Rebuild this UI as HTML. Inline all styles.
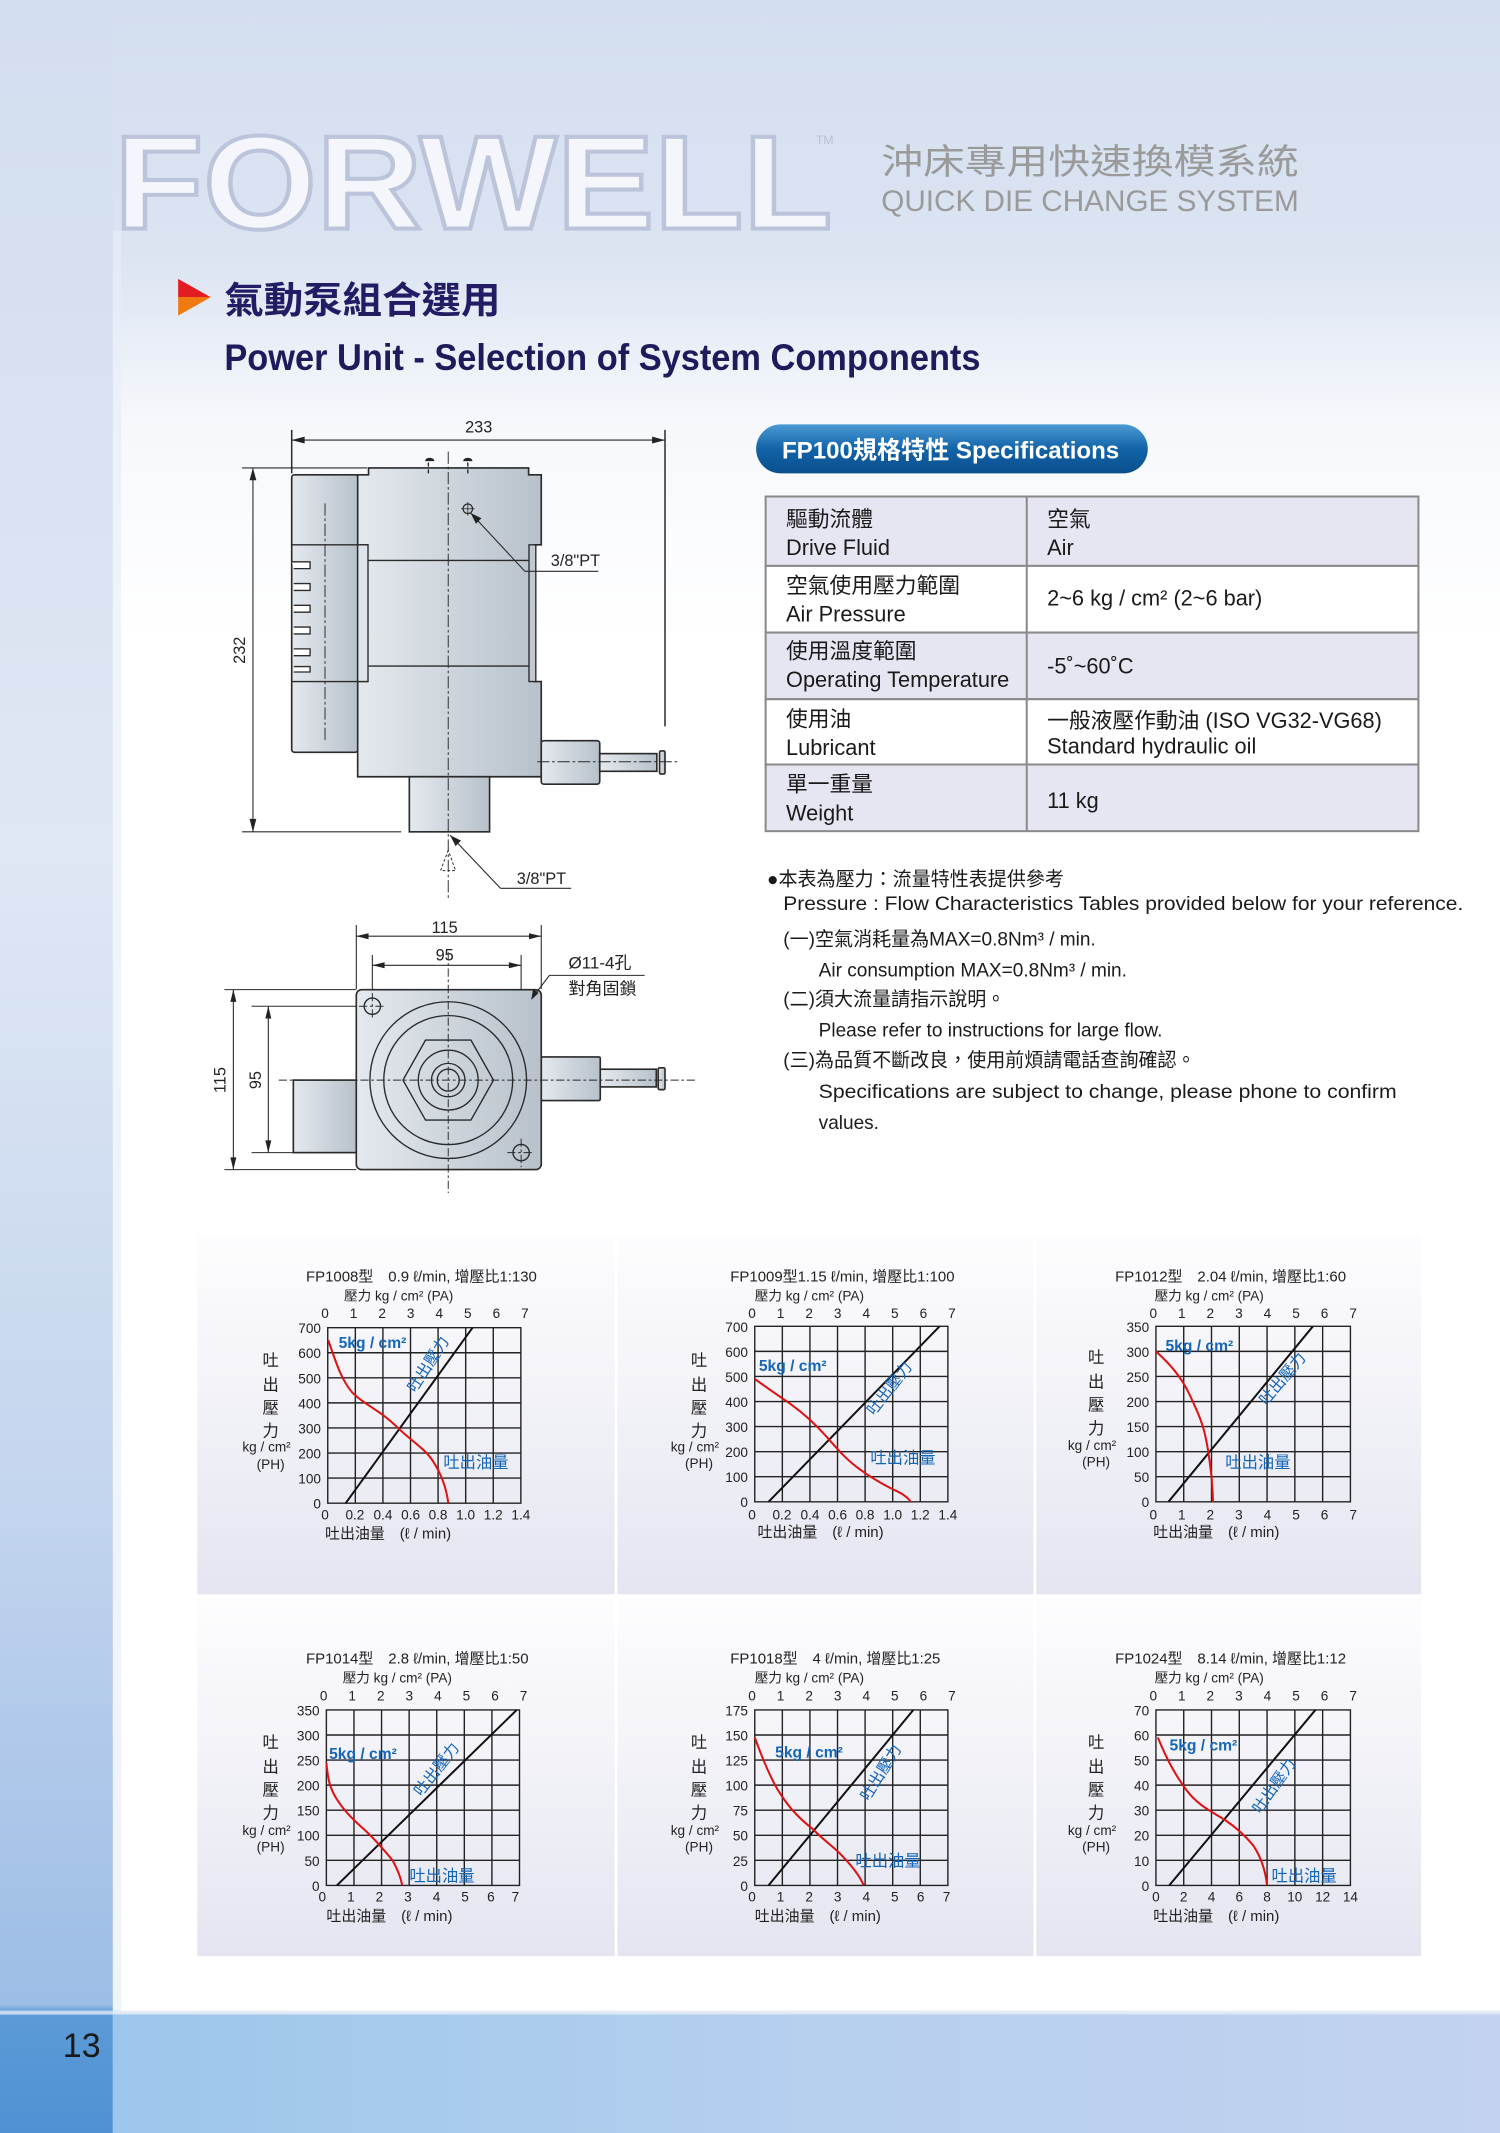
<!DOCTYPE html>
<html><head><meta charset="utf-8"><style>
html,body{margin:0;padding:0;background:#fff}
svg{display:block}
text{font-family:"Liberation Sans","Noto Sans CJK TC",sans-serif}
</style></head><body>
<svg width="1500" height="2133" viewBox="0 0 1103 1568" preserveAspectRatio="none" xmlns="http://www.w3.org/2000/svg">
<defs>
<linearGradient id="top" x1="0" y1="0" x2="0" y2="1">
<stop offset="0" stop-color="#d3def0"/><stop offset="0.12" stop-color="#dce4f2"/><stop offset="0.2" stop-color="#f6f8fc"/><stop offset="0.3" stop-color="#fff"/><stop offset="1" stop-color="#fff"/></linearGradient>
<linearGradient id="lstrip" x1="0" y1="0" x2="0" y2="1">
<stop offset="0" stop-color="#d3def0"/><stop offset="0.12" stop-color="#d6e0f0"/><stop offset="0.4" stop-color="#dfe7f4"/><stop offset="0.7" stop-color="#c4d5ee"/><stop offset="0.94" stop-color="#9cbde6"/><stop offset="0.943" stop-color="#5c9ad6"/><stop offset="1" stop-color="#4f92d4"/></linearGradient>
<linearGradient id="band" x1="0" y1="0" x2="1" y2="0">
<stop offset="0" stop-color="#9cc6ec"/><stop offset="0.5" stop-color="#b6d0ee"/><stop offset="1" stop-color="#c2d2f0"/></linearGradient>
<linearGradient id="panel" x1="0" y1="0" x2="0" y2="1">
<stop offset="0" stop-color="#fdfdfe"/><stop offset="1" stop-color="#e5e5f1"/></linearGradient>
<linearGradient id="metal" x1="0" y1="0" x2="1" y2="0">
<stop offset="0" stop-color="#e4e9ee"/><stop offset="1" stop-color="#b8c1ca"/></linearGradient>
<linearGradient id="pill" x1="0" y1="0" x2="0" y2="1">
<stop offset="0" stop-color="#4a9ad6"/><stop offset="0.5" stop-color="#1263a8"/><stop offset="1" stop-color="#0a4f8e"/></linearGradient>
<linearGradient id="tri" x1="0" y1="0" x2="0" y2="1">
<stop offset="0.5" stop-color="#e31b23"/><stop offset="0.5" stop-color="#f07a10"/></linearGradient>
</defs>

<rect x="0" y="0" width="1103" height="1568" fill="url(#top)"/>
<rect x="0" y="0" width="83" height="1568" fill="url(#lstrip)"/>
<rect x="83" y="170" width="6" height="1310" fill="#e8eef8" opacity="0.7"/>
<rect x="83" y="1480" width="1020" height="88" fill="url(#band)"/>
<rect x="0" y="1478" width="1103" height="3" fill="#dde8f4" opacity="0.8"/>
<text x="74" y="1512" font-size="25" text-anchor="end" fill="#1a1a1a">13</text>

<text x="84" y="168" font-size="98" font-weight="bold" fill="#f4f6fb" stroke="#bcc4dc" stroke-width="3" textLength="528" lengthAdjust="spacingAndGlyphs">FORWELL</text>
<text x="600" y="106" font-size="9" fill="#b8bfd0">TM</text>
<text x="648" y="128" font-size="26" fill="#9a9a9a" textLength="307" lengthAdjust="spacingAndGlyphs">沖床專用快速換模系統</text>
<text x="648" y="155" font-size="22" fill="#9a9a9a" textLength="307" lengthAdjust="spacingAndGlyphs">QUICK DIE CHANGE SYSTEM</text>

<polygon points="131,205 155,218.5 131,232" fill="url(#tri)"/>
<text x="165" y="230" font-size="27" font-weight="bold" fill="#231c64" textLength="203" lengthAdjust="spacingAndGlyphs">氣動泵組合選用</text>
<text x="165" y="272" font-size="27" font-weight="bold" fill="#1f1a5c" textLength="556" lengthAdjust="spacingAndGlyphs">Power Unit - Selection of System Components</text>

<rect x="556" y="312" width="288" height="36" rx="18" fill="url(#pill)"/>
<text x="575" y="337" font-size="18" font-weight="bold" fill="#fff" textLength="248" lengthAdjust="spacingAndGlyphs">FP100規格特性  Specifications</text>

<g stroke="#8a8a8a" stroke-width="1.5">
<rect x="563" y="365" width="480" height="51" fill="#e6e6f3"/>
<rect x="563" y="416" width="480" height="49" fill="#fff"/>
<rect x="563" y="465" width="480" height="49" fill="#e6e6f3"/>
<rect x="563" y="514" width="480" height="48" fill="#fff"/>
<rect x="563" y="562" width="480" height="49" fill="#e6e6f3"/>
<line x1="755" y1="365" x2="755" y2="611"/>
</g>
<g font-size="16" fill="#1a1a1a">
<text x="578" y="387">驅動流體</text><text x="578" y="408">Drive Fluid</text>
<text x="770" y="387">空氣</text><text x="770" y="408">Air</text>
<text x="578" y="436">空氣使用壓力範圍</text><text x="578" y="457">Air Pressure</text>
<text x="770" y="445">2~6 kg / cm² (2~6 bar)</text>
<text x="578" y="484">使用溫度範圍</text><text x="578" y="505">Operating Temperature</text>
<text x="770" y="495">-5˚~60˚C</text>
<text x="578" y="534">使用油</text><text x="578" y="555">Lubricant</text>
<text x="770" y="535">一般液壓作動油 (ISO VG32-VG68)</text><text x="770" y="554">Standard hydraulic oil</text>
<text x="578" y="582">單一重量</text><text x="578" y="603">Weight</text>
<text x="770" y="594">11 kg</text>
</g>

<g font-size="14" fill="#1a1a1a">
<text x="564" y="651">●本表為壓力：流量特性表提供參考</text>
<text x="576" y="669" textLength="500" lengthAdjust="spacingAndGlyphs">Pressure : Flow Characteristics Tables provided below for your reference.</text>
<text x="576" y="695">(一)空氣消耗量為MAX=0.8Nm³ / min.</text>
<text x="602" y="718">Air consumption MAX=0.8Nm³ / min.</text>
<text x="576" y="739">(二)須大流量請指示說明。</text>
<text x="602" y="762">Please refer to instructions for large flow.</text>
<text x="576" y="784">(三)為品質不斷改良，使用前煩請電話查詢確認。</text>
<text x="602" y="807" textLength="425" lengthAdjust="spacingAndGlyphs">Specifications are subject to change, please phone to confirm</text>
<text x="602" y="830">values.</text>
</g>

<!-- side view drawing -->
<g stroke="#2a2a2a" stroke-width="1.1" fill="none">
<line x1="214.5" y1="316" x2="214.5" y2="348"/>
<line x1="489" y1="316" x2="489" y2="534"/>
<line x1="214.5" y1="323.5" x2="489" y2="323.5" stroke-width="0.8"/>
<line x1="178" y1="344" x2="270" y2="344" stroke-width="0.8"/>
<line x1="178" y1="611.5" x2="295" y2="611.5" stroke-width="0.8"/>
<line x1="186" y1="344" x2="186" y2="611.5" stroke-width="0.8"/>
</g>
<g fill="#222">
<polygon points="214.5,323.5 224,321 224,326"/><polygon points="489,323.5 479.5,321 479.5,326"/>
<polygon points="186,344 183.5,353 188.5,353"/><polygon points="186,611.5 183.5,602 188.5,602"/>
</g>
<text x="352" y="318" font-size="12" text-anchor="middle" fill="#222">233</text>
<text transform="translate(180,478) rotate(-90)" font-size="12" text-anchor="middle" fill="#222">232</text>

<g stroke="#2a2a2a" stroke-width="1.2" fill="url(#metal)">
<rect x="214.5" y="349" width="48.7" height="204" rx="2"/>
<polygon points="263,349 271,349 271,344 388.7,344 388.7,349 398,349 398,400.5 393,400.5 393,501 398,501 398,571 263,571"/>
<rect x="301" y="571" width="59" height="40.5"/>
<rect x="398" y="544.5" width="43" height="32" rx="2"/>
<rect x="441" y="554" width="42" height="13"/>
<rect x="485" y="552" width="4" height="17" rx="1"/>
</g>
<g stroke="#2a2a2a" stroke-width="1" fill="none">
<line x1="214.5" y1="400.5" x2="271" y2="400.5"/><line x1="214.5" y1="501" x2="271" y2="501"/>
<rect x="263" y="400.5" width="7.6" height="100.5" fill="#dfe4ea"/>
<rect x="389" y="400.5" width="5" height="100.5" fill="#c0c8d0"/>
<line x1="271" y1="412" x2="389" y2="412"/><line x1="271" y1="489.6" x2="389" y2="489.6"/>
<path d="M214.5 413H228V418H216M216 429H228V434H216M216 445H228V450H216M216 461H228V466H216M216 477H228V482H216M216 490H228V494H216" fill="#fff"/>
<path d="M313 339a3 2 0 0 1 6 0M341 339a3 2 0 0 1 6 0" fill="#222"/>
<line x1="315" y1="340" x2="315" y2="348" stroke-dasharray="3 2"/><line x1="344" y1="340" x2="344" y2="348" stroke-dasharray="3 2"/>
<circle cx="344" cy="374" r="3.5" stroke-width="0.9"/>
<line x1="339" y1="374" x2="349" y2="374" stroke-width="0.6"/><line x1="344" y1="369" x2="344" y2="379" stroke-width="0.6"/>
<line x1="346" y1="377" x2="386" y2="420" stroke-width="0.8"/>
<line x1="386" y1="420" x2="440" y2="420" stroke-width="0.8"/>
<g stroke-width="0.7" stroke-dasharray="9 2 2 2">
<line x1="329.6" y1="332" x2="329.6" y2="662"/>
<line x1="395" y1="560" x2="500" y2="560"/>
<line x1="239" y1="370" x2="239" y2="545"/>
</g>
<polygon points="329.6,625 324,640 335,640" stroke-width="0.7" stroke-dasharray="2 1.5"/>
<line x1="331" y1="614" x2="368" y2="653" stroke-width="0.8"/>
<line x1="368" y1="653" x2="420" y2="653" stroke-width="0.8"/>
</g>
<polygon points="346,377 354,381 350,385" fill="#222"/>
<polygon points="331,614 339,618 335,622" fill="#222"/>
<text x="405" y="416" font-size="12" fill="#222">3/8"PT</text>
<text x="380" y="650" font-size="12" fill="#222">3/8"PT</text>

<!-- bottom view -->
<g stroke="#2a2a2a" stroke-width="0.8" fill="none">
<line x1="262" y1="680" x2="262" y2="727"/><line x1="398" y1="680" x2="398" y2="727"/>
<line x1="273.8" y1="702" x2="273.8" y2="740"/><line x1="383.2" y1="702" x2="383.2" y2="740"/>
<line x1="262" y1="688.2" x2="398" y2="688.2"/><line x1="273.8" y1="709.6" x2="383.2" y2="709.6"/>
<line x1="165" y1="727.5" x2="262" y2="727.5"/><line x1="185" y1="739.7" x2="262" y2="739.7"/>
<line x1="185" y1="847.3" x2="262" y2="847.3"/><line x1="165" y1="859.8" x2="262" y2="859.8"/>
<line x1="171.6" y1="727.5" x2="171.6" y2="859.8"/><line x1="197.3" y1="739.7" x2="197.3" y2="847.3"/>
</g>
<g fill="#222">
<polygon points="262,688.2 271,686 271,690.5"/><polygon points="398,688.2 389,686 389,690.5"/>
<polygon points="273.8,709.6 282.8,707.4 282.8,711.8"/><polygon points="383.2,709.6 374.2,707.4 374.2,711.8"/>
<polygon points="171.6,727.5 169.4,736.5 173.8,736.5"/><polygon points="171.6,859.8 169.4,850.8 173.8,850.8"/>
<polygon points="197.3,739.7 195.1,748.7 199.5,748.7"/><polygon points="197.3,847.3 195.1,838.3 199.5,838.3"/>
</g>
<text x="327" y="686" font-size="12" text-anchor="middle" fill="#222">115</text>
<text x="327" y="706" font-size="12" text-anchor="middle" fill="#222">95</text>
<text transform="translate(166,794) rotate(-90)" font-size="12" text-anchor="middle" fill="#222">115</text>
<text transform="translate(192,794) rotate(-90)" font-size="12" text-anchor="middle" fill="#222">95</text>
<g stroke="#2a2a2a" stroke-width="1.2" fill="url(#metal)">
<rect x="215.7" y="794" width="46.3" height="53.3"/>
<rect x="398" y="777" width="43.4" height="32" rx="1"/>
<rect x="441.4" y="786" width="41.2" height="13"/>
<rect x="484" y="785" width="5" height="16" rx="1"/>
<rect x="262" y="727.5" width="136" height="132.3" rx="4"/>
</g>
<g stroke="#2a2a2a" stroke-width="1" fill="none">
<circle cx="329.6" cy="794" r="57.6"/><circle cx="329.6" cy="794" r="47.4"/>
<polygon points="296.3,794 312.9,764.6 346.3,764.6 362.9,794 346.3,823.4 312.9,823.4"/>
<circle cx="329.6" cy="794" r="22"/><circle cx="329.6" cy="794" r="12.3"/><circle cx="329.6" cy="794" r="8.1"/>
<circle cx="273.8" cy="739.7" r="6"/><circle cx="383.2" cy="847.3" r="6"/>
<g stroke-width="0.7" stroke-dasharray="6 2 2 2">
<line x1="264" y1="739.7" x2="284" y2="739.7"/><line x1="273.8" y1="730" x2="273.8" y2="750"/>
<line x1="373" y1="847.3" x2="393" y2="847.3"/><line x1="383.2" y1="837" x2="383.2" y2="858"/>
<line x1="205" y1="794" x2="512" y2="794"/><line x1="329.6" y1="700" x2="329.6" y2="877"/>
</g>
<path d="M474 717H404L391 734" stroke-width="0.8"/>
</g>
<polygon points="390.7,735 392,727 396,730" fill="#222"/>
<text x="418" y="712" font-size="12.5" fill="#222">Ø11-4孔</text>
<text x="418" y="731" font-size="12.5" fill="#222">對角固鎖</text>

<!-- chart panels -->
<rect x="145" y="908" width="307" height="264" fill="url(#panel)"/>
<rect x="454" y="908" width="306" height="264" fill="url(#panel)"/>
<rect x="762" y="908" width="283" height="264" fill="url(#panel)"/>
<rect x="145" y="1175" width="307" height="263" fill="url(#panel)"/>
<rect x="454" y="1175" width="306" height="263" fill="url(#panel)"/>
<rect x="762" y="1175" width="283" height="263" fill="url(#panel)"/>

<!-- CHART 1 -->
<g transform="translate(241,976)" font-size="10" fill="#222">
<text x="-16" y="-34" font-size="11">FP1008型　0.9 ℓ/min, 增壓比1:130</text>
<text x="12" y="-20">壓力  kg / cm²  (PA)</text>
<text y="-7" text-anchor="middle"><tspan x="-2">0</tspan><tspan x="19">1</tspan><tspan x="40">2</tspan><tspan x="61">3</tspan><tspan x="82">4</tspan><tspan x="103">5</tspan><tspan x="124">6</tspan><tspan x="145">7</tspan></text>
<text text-anchor="end" x="-5" y="4">700</text><text text-anchor="end" x="-5" y="22.4">600</text><text text-anchor="end" x="-5" y="40.9">500</text><text text-anchor="end" x="-5" y="59.3">400</text><text text-anchor="end" x="-5" y="77.7">300</text><text text-anchor="end" x="-5" y="96.1">200</text><text text-anchor="end" x="-5" y="114.6">100</text><text text-anchor="end" x="-5" y="133">0</text>
<text y="141" text-anchor="middle"><tspan x="-2">0</tspan><tspan x="20">0.2</tspan><tspan x="40.6">0.4</tspan><tspan x="60.9">0.6</tspan><tspan x="81.1">0.8</tspan><tspan x="101.4">1.0</tspan><tspan x="121.7">1.2</tspan><tspan x="142">1.4</tspan></text>
<text x="-2" y="155" font-size="11">吐出油量　(ℓ / min)</text>
<g font-size="12" text-anchor="middle"><text x="-42" y="28">吐</text><text x="-42" y="46">出</text><text x="-42" y="63">壓</text><text x="-42" y="80">力</text></g>
<text x="-45" y="91" text-anchor="middle">kg / cm²</text><text x="-42" y="104" text-anchor="middle">(PH)</text>
<g transform="translate(0,129) scale(20.286,-18.43)" fill="none">
<path d="M0 0H7V7H0ZM1 0V7M2 0V7M3 0V7M4 0V7M5 0V7M6 0V7M0 1H7M0 2H7M0 3H7M0 4H7M0 5H7M0 6H7" stroke="#222" stroke-width="1.4" vector-effect="non-scaling-stroke"/>
<path d="M0.65 0L5.25 7" stroke="#111" stroke-width="2" vector-effect="non-scaling-stroke"/>
<path d="M0.02 6.5C0.3 5.6 0.5 4.9 0.9 4.4C1.3 3.95 1.9 3.7 2.5 3.05C3 2.5 3.5 2.2 3.8 1.7C4.1 1.2 4.3 0.6 4.37 0" stroke="#e01010" stroke-width="2" vector-effect="non-scaling-stroke"/>
</g>
<text x="8" y="15" font-size="11.5" font-weight="bold" fill="#1565b8" font-family="Liberation Serif">5kg / cm²</text>
<text transform="translate(77,29) rotate(-57)" text-anchor="middle" font-size="11.5" fill="#1565b8">吐出壓力</text>
<text x="85" y="103" font-size="12" fill="#1565b8">吐出油量</text>
</g>

<!-- CHART 2 -->
<g transform="translate(555,975)" font-size="10" fill="#222">
<text x="-18" y="-33" font-size="11">FP1009型1.15 ℓ/min, 增壓比1:100</text>
<text x="0" y="-19">壓力  kg / cm²  (PA)</text>
<text y="-6" text-anchor="middle"><tspan x="-2">0</tspan><tspan x="19">1</tspan><tspan x="40">2</tspan><tspan x="61">3</tspan><tspan x="82">4</tspan><tspan x="103">5</tspan><tspan x="124">6</tspan><tspan x="145">7</tspan></text>
<text text-anchor="end" x="-5" y="4">700</text><text text-anchor="end" x="-5" y="22.4">600</text><text text-anchor="end" x="-5" y="40.9">500</text><text text-anchor="end" x="-5" y="59.3">400</text><text text-anchor="end" x="-5" y="77.7">300</text><text text-anchor="end" x="-5" y="96.1">200</text><text text-anchor="end" x="-5" y="114.6">100</text><text text-anchor="end" x="-5" y="133">0</text>
<text y="142" text-anchor="middle"><tspan x="-2">0</tspan><tspan x="20">0.2</tspan><tspan x="40.6">0.4</tspan><tspan x="60.9">0.6</tspan><tspan x="81.1">0.8</tspan><tspan x="101.4">1.0</tspan><tspan x="121.7">1.2</tspan><tspan x="142">1.4</tspan></text>
<text x="2" y="155" font-size="11">吐出油量　(ℓ / min)</text>
<g font-size="12" text-anchor="middle"><text x="-41" y="29">吐</text><text x="-41" y="47">出</text><text x="-41" y="64">壓</text><text x="-41" y="81">力</text></g>
<text x="-44" y="92" text-anchor="middle">kg / cm²</text><text x="-41" y="104" text-anchor="middle">(PH)</text>
<g transform="translate(0,129) scale(20.286,-18.43)" fill="none">
<path d="M0 0H7V7H0ZM1 0V7M2 0V7M3 0V7M4 0V7M5 0V7M6 0V7M0 1H7M0 2H7M0 3H7M0 4H7M0 5H7M0 6H7" stroke="#222" stroke-width="1.4" vector-effect="non-scaling-stroke"/>
<path d="M0.5 0L6.7 7" stroke="#111" stroke-width="2" vector-effect="non-scaling-stroke"/>
<path d="M0 4.9C0.5 4.5 0.9 4.2 1.3 3.9C1.8 3.5 2.2 3.1 2.6 2.6C3 2.1 3.3 1.7 3.8 1.3C4.3 0.9 4.8 0.6 5.2 0.4C5.4 0.3 5.6 0.1 5.65 0" stroke="#e01010" stroke-width="2" vector-effect="non-scaling-stroke"/>
</g>
<text x="3" y="33" font-size="11.5" font-weight="bold" fill="#1565b8" font-family="Liberation Serif">5kg / cm²</text>
<text transform="translate(102,48) rotate(-52)" text-anchor="middle" font-size="11.5" fill="#1565b8">吐出壓力</text>
<text x="85" y="101" font-size="12" fill="#1565b8">吐出油量</text>
</g>

<!-- CHART 3 -->
<g transform="translate(850,975)" font-size="10" fill="#222">
<text x="-30" y="-33" font-size="11">FP1012型　2.04 ℓ/min, 增壓比1:60</text>
<text x="-1" y="-19">壓力  kg / cm²  (PA)</text>
<text y="-6" text-anchor="middle"><tspan x="-2">0</tspan><tspan x="19">1</tspan><tspan x="40">2</tspan><tspan x="61">3</tspan><tspan x="82">4</tspan><tspan x="103">5</tspan><tspan x="124">6</tspan><tspan x="145">7</tspan></text>
<text text-anchor="end" x="-5" y="4">350</text><text text-anchor="end" x="-5" y="22.4">300</text><text text-anchor="end" x="-5" y="40.9">250</text><text text-anchor="end" x="-5" y="59.3">200</text><text text-anchor="end" x="-5" y="77.7">150</text><text text-anchor="end" x="-5" y="96.1">100</text><text text-anchor="end" x="-5" y="114.6">50</text><text text-anchor="end" x="-5" y="133">0</text>
<text y="142" text-anchor="middle"><tspan x="-2">0</tspan><tspan x="19">1</tspan><tspan x="40">2</tspan><tspan x="61">3</tspan><tspan x="82">4</tspan><tspan x="103">5</tspan><tspan x="124">6</tspan><tspan x="145">7</tspan></text>
<text x="-2" y="155" font-size="11">吐出油量　(ℓ / min)</text>
<g font-size="12" text-anchor="middle"><text x="-44" y="27">吐</text><text x="-44" y="45">出</text><text x="-44" y="62">壓</text><text x="-44" y="79">力</text></g>
<text x="-47" y="91" text-anchor="middle">kg / cm²</text><text x="-44" y="103" text-anchor="middle">(PH)</text>
<g transform="translate(0,129) scale(20.43,-18.43)" fill="none">
<path d="M0 0H7V7H0ZM1 0V7M2 0V7M3 0V7M4 0V7M5 0V7M6 0V7M0 1H7M0 2H7M0 3H7M0 4H7M0 5H7M0 6H7" stroke="#222" stroke-width="1.4" vector-effect="non-scaling-stroke"/>
<path d="M0.45 0L5.65 7" stroke="#111" stroke-width="2" vector-effect="non-scaling-stroke"/>
<path d="M0 6C0.5 5.5 0.9 5 1.2 4.3C1.5 3.6 1.7 3.1 1.8 2.5C1.9 2 1.95 1.5 2.0 1C2.03 0.6 2.05 0.3 2.05 0" stroke="#e01010" stroke-width="2" vector-effect="non-scaling-stroke"/>
</g>
<text x="7" y="18" font-size="11.5" font-weight="bold" fill="#1565b8" font-family="Liberation Serif">5kg / cm²</text>
<text transform="translate(96,41) rotate(-50)" text-anchor="middle" font-size="11.5" fill="#1565b8">吐出壓力</text>
<text x="51" y="104" font-size="12" fill="#1565b8">吐出油量</text>
</g>

<!-- CHART 4 -->
<g transform="translate(240,1257)" font-size="10" fill="#222">
<text x="-15" y="-34" font-size="11">FP1014型　2.8 ℓ/min, 增壓比1:50</text>
<text x="12" y="-20">壓力  kg / cm²  (PA)</text>
<text y="-7" text-anchor="middle"><tspan x="-2">0</tspan><tspan x="19">1</tspan><tspan x="40">2</tspan><tspan x="61">3</tspan><tspan x="82">4</tspan><tspan x="103">5</tspan><tspan x="124">6</tspan><tspan x="145">7</tspan></text>
<text text-anchor="end" x="-5" y="4">350</text><text text-anchor="end" x="-5" y="22.4">300</text><text text-anchor="end" x="-5" y="40.9">250</text><text text-anchor="end" x="-5" y="59.3">200</text><text text-anchor="end" x="-5" y="77.7">150</text><text text-anchor="end" x="-5" y="96.1">100</text><text text-anchor="end" x="-5" y="114.6">50</text><text text-anchor="end" x="-5" y="133">0</text>
<text y="141" text-anchor="middle"><tspan x="-3">0</tspan><tspan x="18">1</tspan><tspan x="39">2</tspan><tspan x="60">3</tspan><tspan x="81">4</tspan><tspan x="102">5</tspan><tspan x="121">6</tspan><tspan x="139">7</tspan></text>
<text x="0" y="155" font-size="11">吐出油量　(ℓ / min)</text>
<g font-size="12" text-anchor="middle"><text x="-41" y="28">吐</text><text x="-41" y="46">出</text><text x="-41" y="63">壓</text><text x="-41" y="80">力</text></g>
<text x="-44" y="92" text-anchor="middle">kg / cm²</text><text x="-41" y="104" text-anchor="middle">(PH)</text>
<g transform="translate(0,129) scale(20.286,-18.43)" fill="none">
<path d="M0 0H7V7H0ZM1 0V7M2 0V7M3 0V7M4 0V7M5 0V7M6 0V7M0 1H7M0 2H7M0 3H7M0 4H7M0 5H7M0 6H7" stroke="#222" stroke-width="1.4" vector-effect="non-scaling-stroke"/>
<path d="M0.38 0L6.9 7" stroke="#111" stroke-width="2" vector-effect="non-scaling-stroke"/>
<path d="M0 4.9C0.05 4.3 0.1 3.9 0.4 3.4C0.7 2.9 1 2.6 1.4 2.2C1.8 1.8 2.1 1.4 2.4 1.0C2.6 0.6 2.7 0.3 2.75 0" stroke="#e01010" stroke-width="2" vector-effect="non-scaling-stroke"/>
</g>
<text x="2" y="36" font-size="11.5" font-weight="bold" fill="#1565b8" font-family="Liberation Serif">5kg / cm²</text>
<text transform="translate(84,46) rotate(-52)" text-anchor="middle" font-size="11.5" fill="#1565b8">吐出壓力</text>
<text x="61" y="126" font-size="12" fill="#1565b8">吐出油量</text>
</g>

<!-- CHART 5 -->
<g transform="translate(555,1257)" font-size="10" fill="#222">
<text x="-18" y="-34" font-size="11">FP1018型　4 ℓ/min, 增壓比1:25</text>
<text x="0" y="-20">壓力  kg / cm²  (PA)</text>
<text y="-7" text-anchor="middle"><tspan x="-2">0</tspan><tspan x="19">1</tspan><tspan x="40">2</tspan><tspan x="61">3</tspan><tspan x="82">4</tspan><tspan x="103">5</tspan><tspan x="124">6</tspan><tspan x="145">7</tspan></text>
<text text-anchor="end" x="-5" y="4">175</text><text text-anchor="end" x="-5" y="22.4">150</text><text text-anchor="end" x="-5" y="40.9">125</text><text text-anchor="end" x="-5" y="59.3">100</text><text text-anchor="end" x="-5" y="77.7">75</text><text text-anchor="end" x="-5" y="96.1">50</text><text text-anchor="end" x="-5" y="114.6">25</text><text text-anchor="end" x="-5" y="133">0</text>
<text y="141" text-anchor="middle"><tspan x="-2">0</tspan><tspan x="19">1</tspan><tspan x="40">2</tspan><tspan x="61">3</tspan><tspan x="82">4</tspan><tspan x="103">5</tspan><tspan x="122">6</tspan><tspan x="141">7</tspan></text>
<text x="0" y="155" font-size="11">吐出油量　(ℓ / min)</text>
<g font-size="12" text-anchor="middle"><text x="-41" y="28">吐</text><text x="-41" y="46">出</text><text x="-41" y="63">壓</text><text x="-41" y="80">力</text></g>
<text x="-44" y="92" text-anchor="middle">kg / cm²</text><text x="-41" y="104" text-anchor="middle">(PH)</text>
<g transform="translate(0,129) scale(20.286,-18.43)" fill="none">
<path d="M0 0H7V7H0ZM1 0V7M2 0V7M3 0V7M4 0V7M5 0V7M6 0V7M0 1H7M0 2H7M0 3H7M0 4H7M0 5H7M0 6H7" stroke="#222" stroke-width="1.4" vector-effect="non-scaling-stroke"/>
<path d="M0.5 0L5.75 7" stroke="#111" stroke-width="2" vector-effect="non-scaling-stroke"/>
<path d="M0 5.9C0.3 5 0.6 4.2 0.9 3.7C1.3 3 1.7 2.6 2.1 2.25C2.5 1.8 2.9 1.5 3.15 1.2C3.5 0.8 3.8 0.4 3.95 0" stroke="#e01010" stroke-width="2" vector-effect="non-scaling-stroke"/>
</g>
<text x="15" y="35" font-size="11.5" font-weight="bold" fill="#1565b8" font-family="Liberation Serif">5kg / cm²</text>
<text transform="translate(96,48) rotate(-58)" text-anchor="middle" font-size="11.5" fill="#1565b8">吐出壓力</text>
<text x="74" y="115" font-size="12" fill="#1565b8">吐出油量</text>
</g>

<!-- CHART 6 -->
<g transform="translate(850,1257)" font-size="10" fill="#222">
<text x="-30" y="-34" font-size="11">FP1024型　8.14 ℓ/min, 增壓比1:12</text>
<text x="-1" y="-20">壓力  kg / cm²  (PA)</text>
<text y="-7" text-anchor="middle"><tspan x="-2">0</tspan><tspan x="19">1</tspan><tspan x="40">2</tspan><tspan x="61">3</tspan><tspan x="82">4</tspan><tspan x="103">5</tspan><tspan x="124">6</tspan><tspan x="145">7</tspan></text>
<text text-anchor="end" x="-5" y="4">70</text><text text-anchor="end" x="-5" y="22.4">60</text><text text-anchor="end" x="-5" y="40.9">50</text><text text-anchor="end" x="-5" y="59.3">40</text><text text-anchor="end" x="-5" y="77.7">30</text><text text-anchor="end" x="-5" y="96.1">20</text><text text-anchor="end" x="-5" y="114.6">10</text><text text-anchor="end" x="-5" y="133">0</text>
<text y="141" text-anchor="middle"><tspan x="0">0</tspan><tspan x="20.4">2</tspan><tspan x="40.9">4</tspan><tspan x="61.3">6</tspan><tspan x="81.7">8</tspan><tspan x="102.1">10</tspan><tspan x="122.6">12</tspan><tspan x="143">14</tspan></text>
<text x="-2" y="155" font-size="11">吐出油量　(ℓ / min)</text>
<g font-size="12" text-anchor="middle"><text x="-44" y="28">吐</text><text x="-44" y="46">出</text><text x="-44" y="63">壓</text><text x="-44" y="80">力</text></g>
<text x="-47" y="92" text-anchor="middle">kg / cm²</text><text x="-44" y="104" text-anchor="middle">(PH)</text>
<g transform="translate(0,129) scale(20.43,-18.43)" fill="none">
<path d="M0 0H7V7H0ZM1 0V7M2 0V7M3 0V7M4 0V7M5 0V7M6 0V7M0 1H7M0 2H7M0 3H7M0 4H7M0 5H7M0 6H7" stroke="#222" stroke-width="1.4" vector-effect="non-scaling-stroke"/>
<path d="M0.48 0L5.74 7" stroke="#111" stroke-width="2" vector-effect="non-scaling-stroke"/>
<path d="M0.07 5.9C0.4 5 0.7 4.4 1.1 3.8C1.5 3.2 2 2.95 2.5 2.6C2.9 2.3 3.2 2 3.5 1.6C3.8 1.1 3.95 0.5 4.0 0" stroke="#e01010" stroke-width="2" vector-effect="non-scaling-stroke"/>
</g>
<text x="10" y="30" font-size="11.5" font-weight="bold" fill="#1565b8" font-family="Liberation Serif">5kg / cm²</text>
<text transform="translate(90,58) rotate(-55)" text-anchor="middle" font-size="11.5" fill="#1565b8">吐出壓力</text>
<text x="85" y="126" font-size="12" fill="#1565b8">吐出油量</text>
</g>
</svg>
</body></html>
